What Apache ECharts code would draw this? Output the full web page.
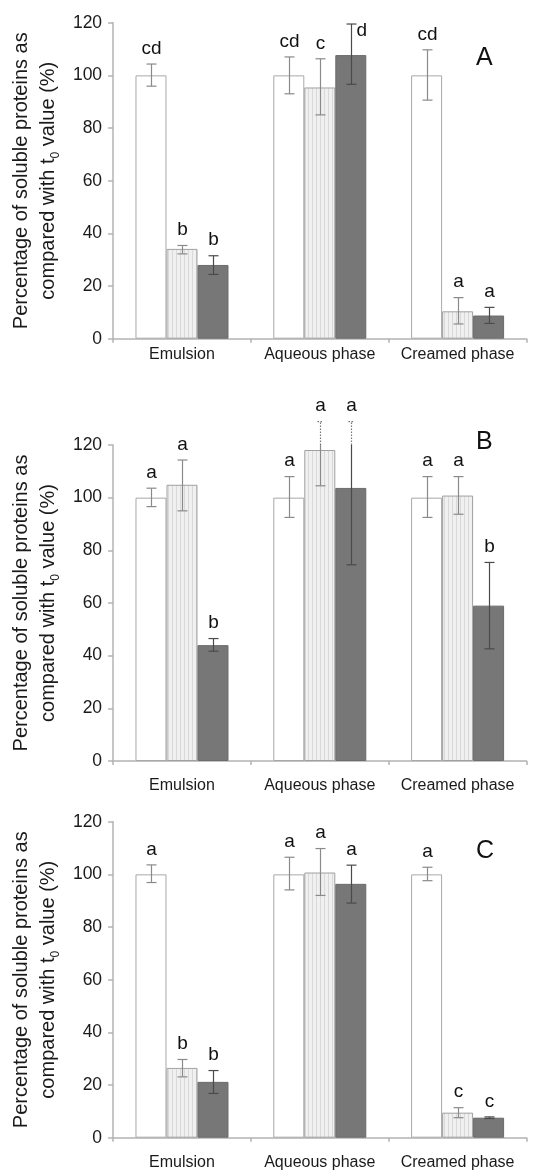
<!DOCTYPE html>
<html>
<head>
<meta charset="utf-8">
<script src="https://cdn.jsdelivr.net/npm/echarts@6/dist/echarts.min.js"></script>
<style>
html,body{margin:0;padding:0;background:#fff;}
#chart{width:542px;height:1171px;}
</style>
</head>
<body>
<div id="chart"></div>
<script>
// ---------- DATA ----------
const categories = ['Emulsion', 'Aqueous phase', 'Creamed phase'];
const panelLetters = ['A', 'B', 'C'];
const yTicks = [0, 20, 40, 60, 80, 100, 120];

// rows = the three bars in a group (t0 white, light hatched, dark); cols = categories
const A_mean = [[100, 100, 100], [34.1, 95.4, 10.4], [28.0, 107.7, 8.8]];
const A_lo   = [[95.9, 93.0, 90.6], [32.2, 85.0, 5.6], [24.4, 96.6, 5.8]];
const A_hi   = [[104.3, 107.0, 109.7], [35.4, 106.3, 15.6], [31.5, 119.5, 11.9]];
const A_letters = [['cd', 'cd', 'cd'], ['b', 'c', 'a'], ['b', 'd', 'a']];

const B_mean = [[100, 100, 100], [104.9, 118.1, 100.8], [44.0, 103.7, 59.0]];
const B_lo   = [[96.6, 92.5, 92.5], [95.0, 104.5, 93.7], [41.7, 74.5, 42.6]];
const B_hi   = [[103.6, 108.0, 108.0], [114.3, 128.9, 108.0], [46.5, 128.9, 75.4]];
const B_letters = [['a', 'a', 'a'], ['a', 'a', 'a'], ['b', 'a', 'b']];

const C_mean = [[100, 100, 100], [26.5, 100.7, 9.5], [21.2, 96.4, 7.6]];
const C_lo   = [[96.9, 94.1, 97.6], [23.1, 92.0, 7.6], [16.8, 89.1, 7.3]];
const C_hi   = [[103.6, 106.5, 102.7], [29.7, 109.8, 11.4], [25.5, 103.5, 7.9]];
const C_letters = [['a', 'a', 'a'], ['b', 'a', 'c'], ['b', 'a', 'c']];

const panelsMean = [A_mean, B_mean, C_mean];
const panelsLo = [A_lo, B_lo, C_lo];
const panelsHi = [A_hi, B_hi, C_hi];
const panelsLetters = [A_letters, B_letters, C_letters];

// ---------- STYLE ----------
const FONT = '"Liberation Sans", Arial, Helvetica, sans-serif';
const AXIS_COLOR = '#b3b3b3';
const TEXT_COLOR = '#1a1a1a';
const BAR_W = 31;
const gridTops = [22.7, 445, 821.7];
const gridH = 316;
const xLabelMargins = [8, 17, 17];
const letterPos = [[485, 60], [485, 444], [485, 853]];
const errColors = ['#8a8a8a', '#8a8a8a', '#4a4a4a'];

const stripe = document.createElement('canvas');
stripe.width = 4; stripe.height = 4;
(function () {
  const c = stripe.getContext('2d');
  c.fillStyle = '#f0f0f0'; c.fillRect(0, 0, 4, 4);
  c.fillStyle = '#d9d9d9'; c.fillRect(0, 0, 1, 4);
})();

const barStyles = [
  { color: '#ffffff', borderColor: '#a8a8a8', borderWidth: 1 },
  { color: { image: stripe, repeat: 'repeat' }, borderColor: '#a0a0a0', borderWidth: 1 },
  { color: '#777777', borderColor: '#6c6c6c', borderWidth: 1 }
];

const grids = [], xAxes = [], yAxes = [], series = [], graphics = [];

for (let p = 0; p < 3; p++) {
  grids.push({ left: 105, right: 15.5, top: gridTops[p], height: gridH });
  xAxes.push({
    gridIndex: p, type: 'category', data: categories,
    axisLine: { lineStyle: { color: AXIS_COLOR, width: 1.5 } },
    axisTick: { show: true, length: 4, lineStyle: { color: AXIS_COLOR, width: 1.5 } },
    axisLabel: { fontSize: 16, color: TEXT_COLOR, fontFamily: FONT, margin: xLabelMargins[p], interval: 0, hideOverlap: false },
    splitLine: { show: false }
  });
  yAxes.push({
    gridIndex: p, type: 'value', min: yTicks[0], max: yTicks[yTicks.length - 1],
    interval: yTicks[1] - yTicks[0],
    axisLine: { show: true, lineStyle: { color: AXIS_COLOR, width: 1.5 } },
    axisTick: { show: true, length: 5, lineStyle: { color: AXIS_COLOR, width: 1.5 } },
    axisLabel: { fontSize: 17.5, color: TEXT_COLOR, fontFamily: FONT, margin: 11 },
    splitLine: { show: false },
    name: 'Percentage of soluble proteins as\ncompared with t{sub|0} value (%)',
    nameLocation: 'middle', nameGap: 44,
    nameTextStyle: {
      fontSize: 20, lineHeight: 27, color: TEXT_COLOR, fontFamily: FONT,
      rich: { sub: { fontSize: 12, lineHeight: 18, verticalAlign: 'bottom', fontFamily: FONT, color: TEXT_COLOR } }
    }
  });
  const mean = panelsMean[p];
  for (let s = 0; s < 3; s++) {
    series.push({
      type: 'bar', xAxisIndex: p, yAxisIndex: p,
      data: mean[s], barWidth: BAR_W, barGap: '0%',
      itemStyle: barStyles[s], silent: true, animation: false
    });
  }
  const errData = [];
  const lettersFlat = [];
  for (let s = 0; s < 3; s++) {
    for (let c = 0; c < categories.length; c++) {
      errData.push([c, s, panelsLo[p][s][c], panelsHi[p][s][c]]);
      lettersFlat.push(panelsLetters[p][s][c]);
    }
  }
  const ymax = yTicks[yTicks.length - 1];
  series.push({
    type: 'custom', xAxisIndex: p, yAxisIndex: p, clip: false, z: 10, silent: true, animation: false,
    data: errData,
    renderItem: function (params, api) {
      const c = api.value(0), s = api.value(1), lo = api.value(2), hi = api.value(3);
      const x = Math.round(api.coord([c, 0])[0] + (s - 1) * BAR_W) + 0.5;
      const yLo = api.coord([c, lo])[1];
      const yHi = api.coord([c, hi])[1];
      const yMax = api.coord([c, ymax])[1];
      const col = errColors[s];
      const solid = { stroke: col, lineWidth: 1.2 };
      const dotted = { stroke: '#777', lineWidth: 1.2, lineDash: [1.5, 1.5] };
      const ch = [];
      const cw = 5;
      if (hi <= ymax) {
        ch.push({ type: 'line', shape: { x1: x, y1: yLo, x2: x, y2: yHi }, style: solid });
        ch.push({ type: 'line', shape: { x1: x - cw, y1: yHi, x2: x + cw, y2: yHi }, style: solid });
      } else {
        ch.push({ type: 'line', shape: { x1: x, y1: yLo, x2: x, y2: yMax }, style: solid });
        ch.push({ type: 'line', shape: { x1: x, y1: yMax, x2: x, y2: yHi }, style: dotted });
        ch.push({ type: 'line', shape: { x1: x - 3, y1: yHi, x2: x + 3, y2: yHi }, style: dotted });
      }
      ch.push({ type: 'line', shape: { x1: x - cw, y1: yLo, x2: x + cw, y2: yLo }, style: solid });
      // a letter whose cap touches the top of the axis is set beside the cap
      const beside = hi <= ymax && (yHi - yMax) < 6;
      ch.push({
        type: 'text',
        style: {
          text: lettersFlat[params.dataIndex],
          x: beside ? x + 5 : x, y: beside ? yHi + 7 : yHi - 6,
          align: beside ? 'left' : 'center', verticalAlign: beside ? 'middle' : 'bottom',
          fontSize: 19, fontFamily: FONT, fill: '#111'
        }
      });
      return { type: 'group', children: ch };
    }
  });
  graphics.push({
    type: 'text', left: letterPos[p][0] - 9, top: letterPos[p][1] - 14,
    style: { text: panelLetters[p], fontSize: 25, fontFamily: FONT, fill: '#111' }
  });
}

const chart = echarts.init(document.getElementById('chart'), null, { renderer: 'canvas' });
chart.setOption({
  animation: false,
  backgroundColor: '#ffffff',
  grid: grids,
  xAxis: xAxes,
  yAxis: yAxes,
  series: series,
  graphic: graphics
});
</script>
</body>
</html>
